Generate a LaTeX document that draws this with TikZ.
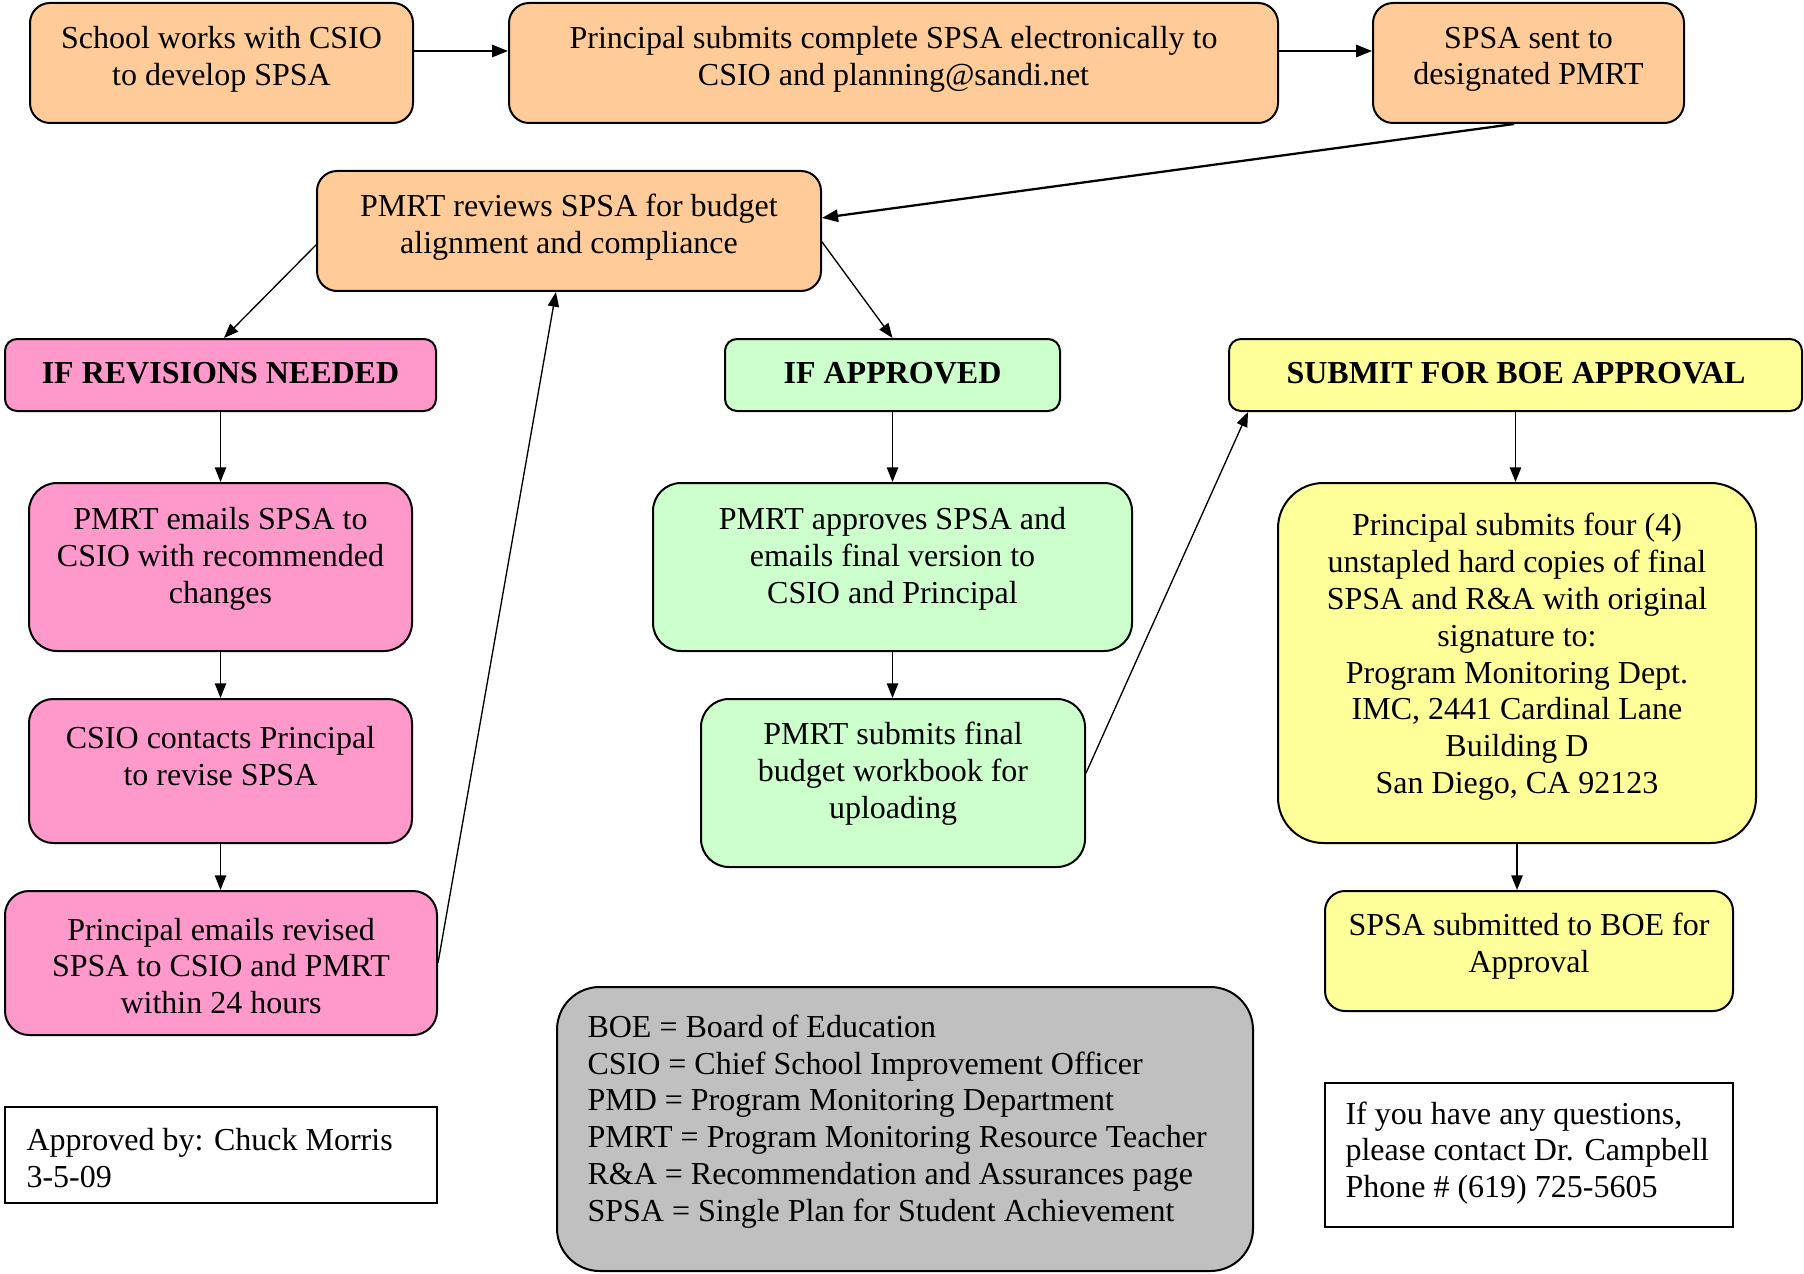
\documentclass[tikz,border=0pt]{standalone}
\usepackage{fontspec}
\setmainfont{Liberation Serif}
\usetikzlibrary{fit,arrows.meta}
\definecolor{peach}{HTML}{FFCC99}
\definecolor{pinkc}{HTML}{FF99CC}
\definecolor{greenc}{HTML}{CCFFCC}
\definecolor{yellowc}{HTML}{FFFF99}
\definecolor{greyc}{HTML}{C0C0C0}
\begin{document}
\begin{tikzpicture}[x=0.375pt,y=-0.375pt,
  box/.style={draw=black, line width=0.75pt, inner sep=0pt},
  txt/.style={inner sep=0pt, yshift=-1.1pt, align=center, font=\fontsize{12}{13.8}\selectfont},
  ltxt/.style={inner sep=0pt, yshift=-1.1pt, align=left, anchor=west, font=\fontsize{12}{13.8}\selectfont},
  htxt/.style={inner sep=0pt, yshift=-0.6pt, align=center, font=\fontsize{12}{13.8}\selectfont\bfseries},
  arrT/.style={-{Triangle[length=6pt,width=4.6pt]}, line width=0.85pt},
  arrM/.style={-{Triangle[length=5.5pt,width=4.2pt]}, line width=0.7pt},
  arrL/.style={-{Triangle[length=5.5pt,width=4.2pt]}, line width=0.5pt}]
\useasboundingbox (0,0) rectangle (1804,1273);

% top row
\node[box, fill=peach, rounded corners=7.5pt, fit={(30,3) (413,123)}] (A) {};
\node[txt] (At) at (221.5,56.5) {School works with CSIO\\to develop SPSA};
\node[box, fill=peach, rounded corners=7.5pt, fit={(509,3) (1278,123)}] (B) {};
\node[txt] (Bt) at (893.5,56.5) {Principal submits complete SPSA electronically to\\CSIO and planning@sandi.net};
\node[box, fill=peach, rounded corners=7.5pt, fit={(1373,3) (1684,123)}] (C) {};
\node[txt] (Ct) at (1528.5,56.5) {SPSA sent to\\designated PMRT};

% review
\node[box, fill=peach, rounded corners=7.5pt, fit={(317,171) (821,291)}] (D) {};
\node[txt] (Dt) at (569,224) {PMRT reviews SPSA for budget\\alignment and compliance};

% headers
\node[box, fill=pinkc, rounded corners=4.5pt, fit={(5,339) (436,411)}] (Rev) {};
\node[htxt] (Revt) at (220.5,372) {IF REVISIONS NEEDED};
\node[box, fill=greenc, rounded corners=4.5pt, fit={(725,339) (1060,411)}] (Appr) {};
\node[htxt] (Apprt) at (892.5,372) {IF APPROVED};
\node[box, fill=yellowc, rounded corners=4.5pt, fit={(1229,339) (1802,411)}] (Sub) {};
\node[htxt] (Subt) at (1516,372) {SUBMIT FOR BOE APPROVAL};

% pink column
\node[box, fill=pinkc, rounded corners=10.5pt, fit={(29,483) (412,651)}] (P2) {};
\node[txt] (P2t) at (220.5,556) {PMRT emails SPSA to\\CSIO with recommended\\changes};
\node[box, fill=pinkc, rounded corners=9pt, fit={(29,699) (412,843)}] (P3) {};
\node[txt] (P3t) at (220.5,753.5) {CSIO contacts Principal\\to revise SPSA};
\node[box, fill=pinkc, rounded corners=9pt, fit={(5,891) (437,1035)}] (P4) {};
\node[txt] (P4t) at (221,963) {Principal emails revised\\SPSA to CSIO and PMRT\\within 24 hours};

% green column
\node[box, fill=greenc, rounded corners=10.5pt, fit={(653,483) (1132,651)}] (G1) {};
\node[txt] (G1t) at (892.5,556) {PMRT approves SPSA and\\emails final version to\\CSIO and Principal};
\node[box, fill=greenc, rounded corners=10.5pt, fit={(701,699) (1085,867)}] (G2) {};
\node[txt] (G2t) at (893,771) {PMRT submits final\\budget workbook for\\uploading};

% yellow column
\node[box, fill=yellowc, rounded corners=17pt, fit={(1278,483) (1756,843)}] (Y) {};
\node[txt] (Yt) at (1517,654) {Principal submits four (4)\\unstapled hard copies of final\\SPSA and R\&A with original\\signature to:\\Program Monitoring Dept.\\IMC, 2441 Cardinal Lane\\Building D\\San Diego, CA 92123};
\node[box, fill=yellowc, rounded corners=7.5pt, fit={(1325,891) (1733,1011)}] (S) {};
\node[txt] (St) at (1529,943) {SPSA submitted to BOE for\\Approval};

% legend and notes
\node[box, fill=greyc, rounded corners=16pt, fit={(557,987) (1253,1271)}] (L) {};
\node[ltxt] (Lt) at (587,1118.5) {BOE = Board of Education\\CSIO = Chief School Improvement Officer\\PMD = Program Monitoring Department\\PMRT = Program Monitoring Resource Teacher\\R\&A = Recommendation and Assurances page\\SPSA = Single Plan for Student Achievement};
\node[box, fit={(5,1107) (437,1203)}] (Ap) {};
\node[ltxt] (Apt) at (26,1155.5) {Approved by: Chuck Morris\\3-5-09};
\node[box, fit={(1325,1083) (1733,1227)}] (Q) {};
\node[ltxt] (Qt) at (1345,1150) {If you have any questions,\\please contact Dr. Campbell\\Phone \# (619) 725-5605};

% connectors
\draw[arrT] ([yshift=4.5pt]A.east) -- ([yshift=4.5pt]B.west);
\draw[arrT] ([yshift=4.5pt]B.east) -- ([yshift=4.5pt]C.west);
\draw[arrT] ([xshift=-5.4pt]C.south) -- ([yshift=4.9pt]D.east);
\draw[arrL] ([yshift=-5.25pt]D.west) -- ([xshift=1.3pt]Rev.north);
\draw[arrL] ([yshift=-4.1pt]D.east) -- (Appr.north);
\draw[arrM] (Rev.south) -- (Rev.south |- P2.north);
\draw[arrM] (P2.south) -- (P2.south |- P3.north);
\draw[arrM] (P3.south) -- (P3.south |- P4.north);
\draw[arrL] (P4.east) -- ([xshift=-4.9pt]D.south);
\draw[arrM] (Appr.south) -- (Appr.south |- G1.north);
\draw[arrM] (G1.south) -- (G1.south |- G2.north);
\draw[arrL] ([yshift=3.75pt]G2.east) -- ([xshift=7.5pt]Sub.south west);
\draw[arrM] (Sub.south) -- (Sub.south |- Y.north);
\draw[arrM] (Y.south) -- (Y.south |- S.north);
\end{tikzpicture}
\end{document}
